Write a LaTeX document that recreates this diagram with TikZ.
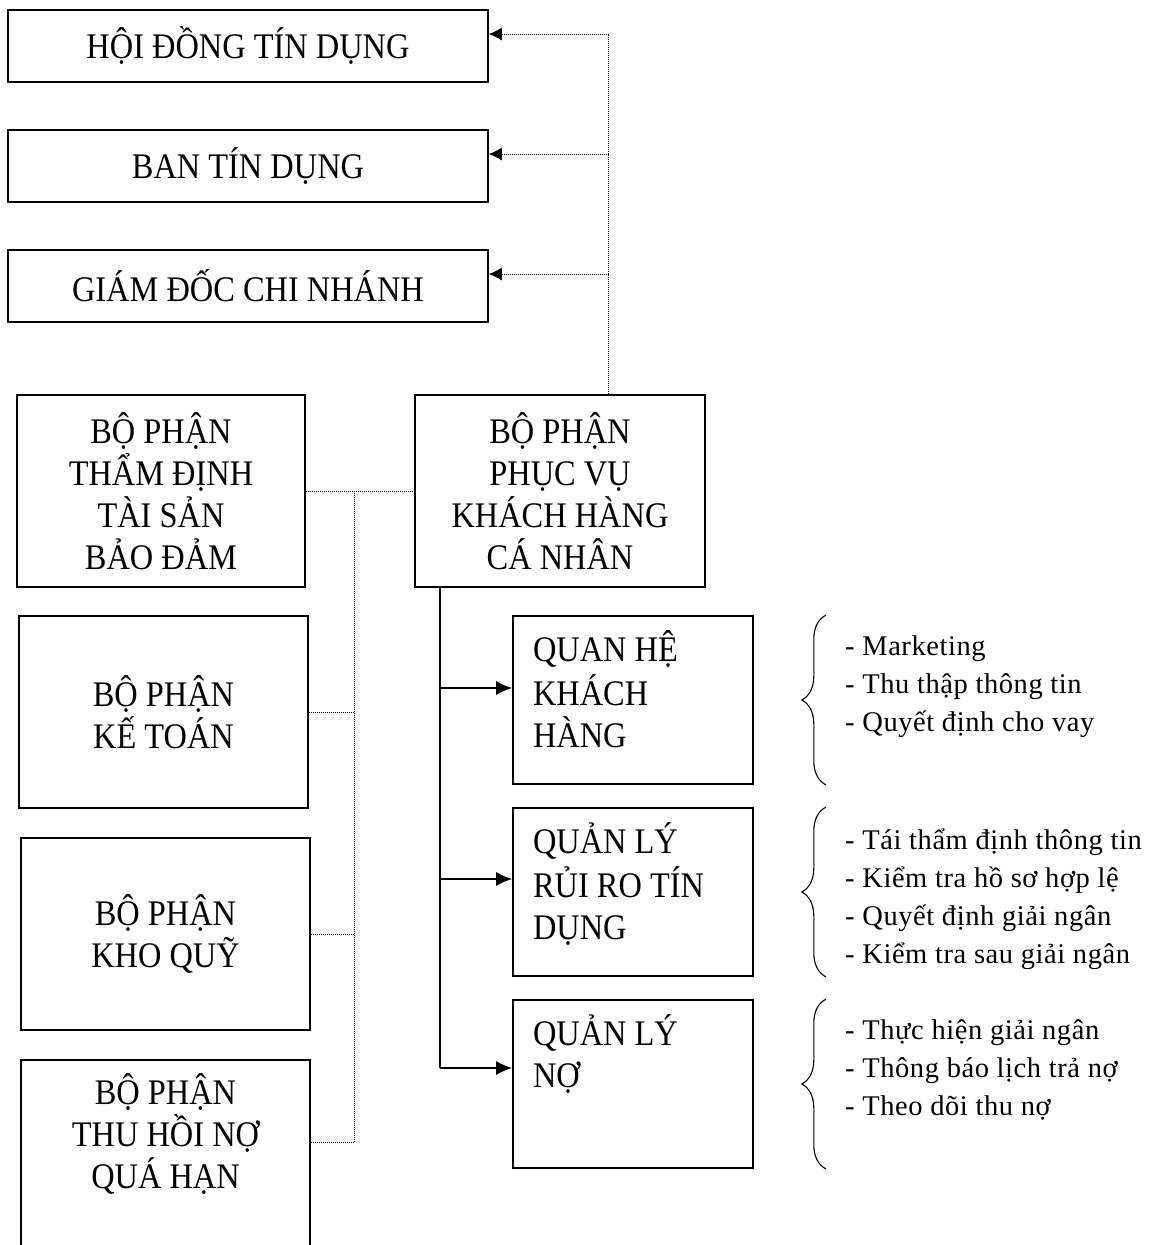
\documentclass[tikz,border=0pt]{standalone}
\usepackage{fontspec}
\setmainfont{Liberation Serif}
\newfontfamily\boxfont[FakeStretch=0.9]{Liberation Serif}
\newfontfamily\listfont[LetterSpace=2]{Liberation Serif}
\usetikzlibrary{calc,arrows.meta,decorations.pathreplacing}
\newcommand{\tasktext}[1]{\parbox[c][139pt][t]{200pt}{\raggedright\strut #1}}

\begin{document}
\begin{tikzpicture}[x=1pt,y=-1pt,
    box/.style={draw,line width=1.6pt,align=center,inner sep=0pt,
      font=\boxfont\fontsize{36}{42}\selectfont},
    headbox/.style={box,minimum width=480pt,minimum height=72pt},
    unitbox/.style={box,minimum width=289pt,minimum height=192pt},
    taskbox/.style={box,minimum width=240pt,minimum height=168pt},
    items/.style={anchor=west,align=left,inner sep=0pt,
      font=\listfont\fontsize{28.5}{38}\selectfont},
    dotline/.style={line width=0.9pt,dash pattern=on 1pt off 1pt},
    dotlink/.style={dotline,-{Latex[length=13pt,width=13pt]}},
    link/.style={line width=1.6pt,-{Latex[length=16pt,width=14pt]}},
    curly/.style={decorate,decoration={brace,amplitude=24pt},line width=1.1pt}]
    \useasboundingbox (0,0) rectangle (1152,1245);

    % top levels
    \node[headbox] (hoidong) at (248,46) {HỘI ĐỒNG TÍN DỤNG};
    \node[headbox] (bantd) at (248,166) {BAN TÍN DỤNG};
    \node[headbox] (giamdoc) at (248,286) {GIÁM ĐỐC CHI NHÁNH};

    % departments
    \node[unitbox,minimum width=288pt] (thamdinh) at (161,491) {BỘ PHẬN\\THẨM ĐỊNH\\TÀI SẢN\\BẢO ĐẢM};
    \node[unitbox,minimum width=290pt] (phucvu) at (560,491) {BỘ PHẬN\\PHỤC VỤ\\KHÁCH HÀNG\\CÁ NHÂN};
    \node[unitbox] (ketoan) at (163.5,712) {BỘ PHẬN\\KẾ TOÁN};
    \node[unitbox] (khoquy) at (165.5,934) {BỘ PHẬN\\KHO QUỸ};
    \node[unitbox,minimum height=226pt] (thuhoi) at (165.5,1173) {BỘ PHẬN\\THU HỒI NỢ\\QUÁ HẠN\\~\\~};

    % tasks
    \node[taskbox] (quanhe) at (633,700) {\tasktext{QUAN HỆ\\KHÁCH\\HÀNG}};
    \node[taskbox] (ruiro) at (633,892) {\tasktext{QUẢN LÝ\\RỦI RO TÍN\\DỤNG}};
    \node[taskbox] (quanlyno) at (633,1084) {\tasktext{QUẢN LÝ\\NỢ}};

    \node[items] (list1) at (845,687) {- Marketing\\- Thu thập thông tin\\- Quyết định cho vay};
    \node[items] (list2) at (845,899) {- Tái thẩm định thông tin\\- Kiểm tra hồ sơ hợp lệ\\- Quyết định giải ngân\\- Kiểm tra sau giải ngân};
    \node[items] (list3) at (845,1070) {- Thực hiện giải ngân\\- Thông báo lịch trả nợ\\- Theo dõi thu nợ};

    \foreach \n in {quanhe,ruiro,quanlyno}
        \draw[curly] ([xshift=72pt]\n.south east) -- ([xshift=72pt]\n.north east);

    % reporting lines
    \coordinate (spine) at ($(phucvu.north east)+(-97,0)$);
    \foreach \n in {hoidong,bantd,giamdoc} {
        \coordinate (\n-in) at ([yshift=12pt]\n.east);
        \draw[dotlink] (\n-in -| spine) -- (\n-in);
    }
    \draw[dotline] (spine) -- (hoidong-in -| spine);

    \coordinate (bus) at ($(thamdinh.east)!0.45!(phucvu.west)$);
    \coordinate (thuhoi-in) at ([yshift=-83pt]thuhoi.north east);
    \draw[dotline] (thamdinh.east) -- (phucvu.west);
    \draw[dotline] (bus) |- (thuhoi-in);
    \foreach \n in {ketoan,khoquy}
        \draw[dotline] (\n.east) -- (\n.east -| bus);

    \coordinate (trunk) at ([xshift=26pt]phucvu.south west);
    \foreach \n/\s in {quanhe/12,ruiro/13,quanlyno/16}
        \coordinate (\n-in) at ([yshift=\s pt]\n.west);
    \draw[line width=1.6pt] (trunk) -- (trunk |- quanlyno-in);
    \foreach \n in {quanhe,ruiro,quanlyno}
        \draw[link] (trunk |- \n-in) -- (\n-in);
\end{tikzpicture}
\end{document}
